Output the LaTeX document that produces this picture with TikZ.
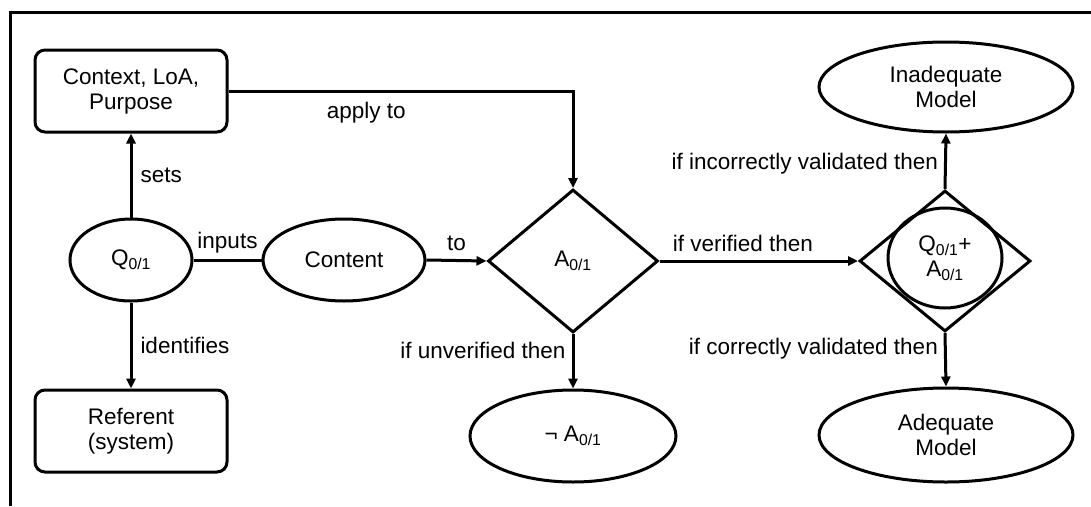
\documentclass[tikz,border=0pt]{standalone}
\usepackage{fontspec}
\setmainfont{Liberation Sans}
\usetikzlibrary{shapes.geometric,arrows.meta}
\begin{document}
\begin{tikzpicture}[x=1pt,y=-1pt,
  every node/.style={font=\fontsize{22.5}{25}\selectfont},
  box/.style={draw,line width=3pt,rounded corners=10pt,minimum width=192pt,minimum height=82pt,align=center,inner sep=0pt},
  oval/.style={draw,ellipse,line width=3pt,inner sep=0pt,align=center},
  dia/.style={draw,diamond,line width=3pt,minimum width=170pt,minimum height=143pt,inner sep=0pt,align=center},
  conn/.style={line width=3pt},
  arr/.style={line width=3pt,-{Triangle[length=10pt,width=9pt]}},
  lab/.style={inner sep=2pt}
]
\useasboundingbox (0,0) rectangle (1091,506);
\draw[line width=3pt] (10,506) -- (10,12) -- (1091,12);

\node[box] (ctx) at (131,91) {Context, LoA,\\Purpose};
\node[box] (ref) at (131,431) {Referent\\(system)};
\node[oval,minimum width=122pt,minimum height=82pt] (q) at (131,260) {Q\textsubscript{0/1}};
\node[oval,minimum width=162pt,minimum height=82pt] (content) at (344,260) {Content};
\node[dia] (a) at (573,261) {A\textsubscript{0/1}};
\node[oval,minimum width=206pt,minimum height=92pt] (nota) at (573,436) {¬ A\textsubscript{0/1}};
\node[dia,minimum width=171pt,minimum height=141pt] (qa) at (945,261) {};
\node[oval,minimum width=114pt,minimum height=100pt] (qac) at (945,258) {Q\textsubscript{0/1}+\\A\textsubscript{0/1}};
\node[oval,minimum width=254pt,minimum height=90pt] (inad) at (946,87) {Inadequate\\Model};
\node[oval,minimum width=254pt,minimum height=94pt] (ad) at (946,435) {Adequate\\Model};

\draw[arr] (q.north) -- node[lab,right=6pt] (lsets) {sets} (ctx.south);
\draw[arr] (q.south) -- node[lab,right=6pt] (lid) {identifies} (ref.north);
\draw[conn] (q.east) -- node[lab,above=3pt] (linp) {inputs} (content.west);
\draw[arr] (content.east) -- node[lab,above=6pt] (lto) {to} (a.west);
\draw[arr] (ctx.east) -| node[lab,below=8pt,pos=0.2] (lapp) {apply to} (a.north);
\draw[arr] (a.east) -- node[lab,above=6pt,pos=0.42] (lver) {if verified then} (qa.west);
\draw[arr] (a.south) -- node[lab,left=4pt,pos=0.3] (lunv) {if unverified then} (nota.north);
\draw[arr] (qa.north) -- node[lab,left=4pt,pos=0.45] (linc) {if incorrectly validated then} (inad.south);
\draw[arr] (qa.south) -- node[lab,left=4pt,pos=0.3] (lcor) {if correctly validated then} (ad.north);
\end{tikzpicture}
\end{document}
